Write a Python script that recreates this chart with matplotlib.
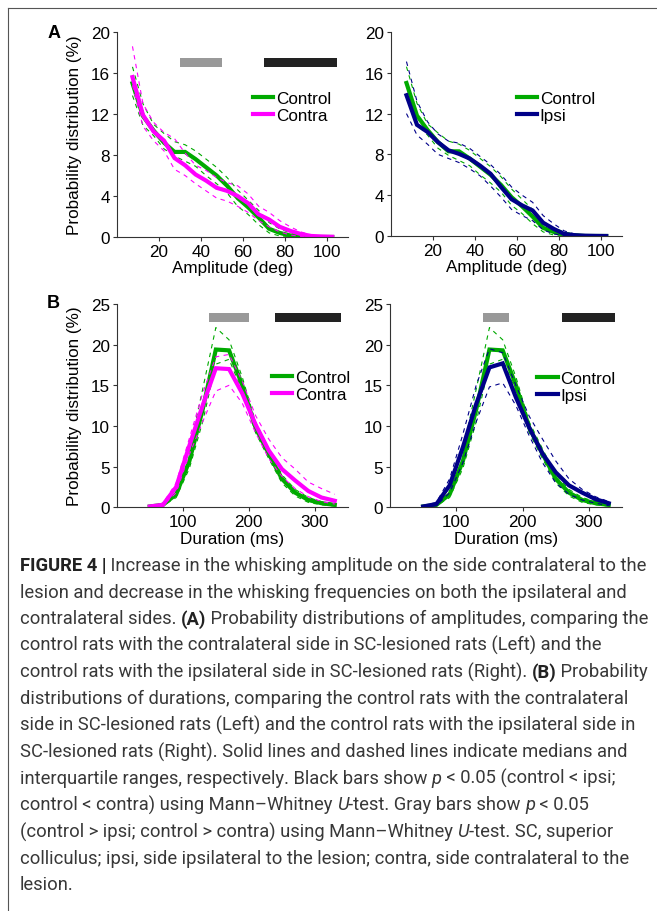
import numpy as np
import matplotlib
matplotlib.use("Agg")
import matplotlib.pyplot as plt
from matplotlib.lines import Line2D

plt.rcParams["font.family"] = ["Liberation Sans", "DejaVu Sans"]

# ---- data: amplitude (deg), bin centres ----
amp_x = [7.5, 12.5, 17.5, 22.5, 27.5, 32.5, 37.5, 42.5, 47.5, 52.5,
         57.5, 62.5, 67.5, 72.5, 77.5, 82.5, 87.5, 92.5, 97.5, 102.5]
amp_ctrl = [15.0, 11.8, 10.4, 9.2, 8.3, 8.3, 7.6, 6.8, 6.0, 5.0,
            3.8, 2.9, 1.9, 0.8, 0.4, 0.15, 0.05, 0.0, 0.0, 0.0]
amp_ctrl_q1 = [13.8, 10.9, 9.9, 8.6, 7.9, 7.4, 6.9, 6.0, 5.2, 4.3,
               3.0, 2.2, 1.2, 0.4, 0.1, 0.05, 0.0, 0.0, 0.0, 0.0]
amp_ctrl_q3 = [16.6, 13.0, 11.0, 10.1, 9.3, 9.0, 8.4, 7.6, 6.8, 5.8,
               4.6, 3.6, 2.6, 1.4, 0.8, 0.4, 0.2, 0.1, 0.05, 0.0]
amp_contra = [15.6, 11.9, 10.3, 9.4, 7.7, 7.0, 6.1, 5.5, 4.8, 4.5,
              4.0, 3.3, 2.2, 1.7, 1.0, 0.6, 0.3, 0.1, 0.05, 0.02]
amp_contra_q1 = [14.8, 10.8, 9.4, 8.4, 6.6, 6.0, 5.2, 4.5, 3.8, 3.5,
                 3.0, 2.4, 1.6, 1.0, 0.5, 0.2, 0.05, 0.0, 0.0, 0.0]
amp_contra_q3 = [18.6, 13.0, 11.2, 10.2, 9.6, 8.2, 7.0, 6.5, 5.8, 5.3,
                 5.0, 4.2, 3.0, 2.4, 1.6, 1.0, 0.5, 0.2, 0.1, 0.05]
amp_ipsi = [13.8, 10.9, 10.2, 9.2, 8.4, 8.05, 7.6, 6.9, 6.1, 4.8,
            3.6, 3.0, 2.5, 1.3, 0.7, 0.2, 0.08, 0.03, 0.01, 0.0]
amp_ipsi_q1 = [12.0, 9.9, 9.0, 8.0, 7.6, 7.2, 6.6, 5.9, 4.9, 3.8,
               2.6, 2.0, 1.5, 0.6, 0.2, 0.05, 0.0, 0.0, 0.0, 0.0]
amp_ipsi_q3 = [17.1, 13.2, 11.2, 10.0, 9.3, 9.1, 8.6, 7.8, 7.0, 6.0,
               4.8, 4.0, 3.3, 2.0, 1.2, 0.5, 0.2, 0.1, 0.05, 0.0]

# ---- data: duration (ms), bin centres ----
dur_x = [50, 70, 90, 110, 130, 150, 170, 190, 210, 230, 250, 270, 290, 310, 330]
dur_ctrl = [0.1, 0.3, 1.6, 5.7, 12.0, 19.4, 19.3, 15.0, 9.8, 6.6, 3.5, 1.8, 0.9, 0.5, 0.3]
dur_ctrl_q1 = [0.05, 0.2, 1.2, 4.8, 10.5, 17.6, 18.2, 14.3, 9.2, 6.0, 3.0, 1.4, 0.6, 0.3, 0.15]
dur_ctrl_q3 = [0.2, 0.5, 2.4, 7.0, 14.5, 22.1, 20.6, 16.0, 10.5, 7.2, 4.0, 2.2, 1.2, 0.7, 0.4]
dur_contra = [0.1, 0.3, 2.5, 7.6, 12.5, 17.1, 17.0, 14.0, 10.2, 7.0, 4.7, 3.3, 2.0, 1.2, 0.8]
dur_contra_q1 = [0.05, 0.2, 1.8, 6.5, 10.5, 14.3, 15.0, 12.8, 9.2, 6.0, 3.8, 2.3, 1.3, 0.7, 0.4]
dur_contra_q3 = [0.2, 0.5, 3.0, 8.5, 14.0, 18.5, 18.8, 15.5, 11.3, 8.4, 6.1, 4.7, 3.1, 2.3, 1.6]
dur_ipsi = [0.1, 0.4, 2.7, 7.4, 12.7, 17.2, 17.7, 13.5, 9.8, 6.6, 4.3, 2.7, 1.8, 1.0, 0.5]
dur_ipsi_q1 = [0.05, 0.2, 1.8, 5.5, 10.5, 14.8, 15.3, 12.5, 8.8, 5.5, 3.0, 1.6, 0.9, 0.5, 0.2]
dur_ipsi_q3 = [0.2, 0.6, 3.5, 9.0, 15.0, 19.5, 19.0, 15.0, 11.2, 8.4, 5.7, 3.5, 2.2, 1.3, 0.7]

# significance bars: (start, end) along x; gray = control > lesion, black = control < lesion
amp_left_gray = [(30, 50)]
amp_left_black = [(70, 105)]
dur_left_gray = [(140, 200)]
dur_left_black = [(240, 340)]
dur_right_gray = [(140, 180)]
dur_right_black = [(260, 340)]

GREEN = "#00aa00"
MAGENTA = "#ff00ff"
NAVY = "#000088"

W, H = 657, 912
fig = plt.figure(figsize=(W / 100, H / 100), dpi=100)


def px_axes(l, t, r, b):
    return fig.add_axes([l / W, 1 - b / H, (r - l) / W, (b - t) / H])


def style_axes(ax, xlim, ylim, xticks, yticks):
    ax.set_xlim(*xlim)
    ax.set_ylim(*ylim)
    ax.set_xticks(xticks)
    ax.set_yticks(yticks)
    for s in ["top", "right"]:
        ax.spines[s].set_visible(False)
    for s in ["left", "bottom"]:
        ax.spines[s].set_color("#333333")
        ax.spines[s].set_linewidth(0.8)
    ax.tick_params(direction="out", length=3, width=0.8, color="#333333",
                   labelsize=12.3, pad=2)


def draw_group(ax, x, med, q1, q3, color, label, lw=3.0):
    ax.plot(x, q1, color=color, lw=0.8, ls=(0, (4, 4)))
    ax.plot(x, q3, color=color, lw=0.8, ls=(0, (4, 4)))
    ax.plot(x, med, color=color, lw=lw, label=label, solid_joinstyle="miter")


def draw_bars(ax, spans, y0, y1, color):
    for a, b in spans:
        ax.fill_between([a, b], [y0, y0], [y1, y1], color=color, lw=0)


def legend_at(ax, xpx, ypx):
    ax.legend(loc="center left", bbox_to_anchor=(xpx / W, 1 - ypx / H),
              bbox_transform=fig.transFigure, frameon=False, fontsize=12.3,
              borderpad=0, borderaxespad=0, handlelength=1.2,
              handletextpad=0.15, labelspacing=0.1)


# ---- panel A ----
axA1 = px_axes(116.7, 33, 348, 238)
axA2 = px_axes(390.7, 33, 622, 237)
for ax, other, oq1, oq3, col, lab in [
        (axA1, amp_contra, amp_contra_q1, amp_contra_q3, MAGENTA, "Contra"),
        (axA2, amp_ipsi, amp_ipsi_q1, amp_ipsi_q3, NAVY, "Ipsi")]:
    draw_group(ax, amp_x, amp_ctrl, amp_ctrl_q1, amp_ctrl_q3, GREEN, "Control")
    draw_group(ax, amp_x, other, oq1, oq3, col, lab)
    style_axes(ax, (0, 110), (0, 20), [20, 40, 60, 80, 100], [0, 4, 8, 12, 16, 20])
    ax.set_xlabel("Amplitude (deg)", fontsize=12.3, labelpad=1)
draw_bars(axA1, amp_left_gray, 16.56, 17.43, "#999999")
draw_bars(axA1, amp_left_black, 16.56, 17.43, "#222222")
legend_at(axA1, 252.7, 108.3)
legend_at(axA2, 516.7, 108.3)

# ---- panel B ----
axB1 = px_axes(116.7, 305, 348, 508.3)
axB2 = px_axes(390, 305, 622, 508.3)
for ax, other, oq1, oq3, col, lab in [
        (axB1, dur_contra, dur_contra_q1, dur_contra_q3, MAGENTA, "Contra"),
        (axB2, dur_ipsi, dur_ipsi_q1, dur_ipsi_q3, NAVY, "Ipsi")]:
    draw_group(ax, dur_x, dur_ctrl, dur_ctrl_q1, dur_ctrl_q3, GREEN, "Control")
    draw_group(ax, dur_x, other, oq1, oq3, col, lab)
    style_axes(ax, (0, 350), (0, 25), [100, 200, 300], [0, 5, 10, 15, 20, 25])
    ax.set_xlabel("Duration (ms)", fontsize=12.3, labelpad=1)
draw_bars(axB1, dur_left_gray, 22.8, 23.9, "#999999")
draw_bars(axB1, dur_left_black, 22.8, 23.9, "#222222")
draw_bars(axB2, dur_right_gray, 22.8, 23.9, "#999999")
draw_bars(axB2, dur_right_black, 22.8, 23.9, "#222222")
legend_at(axB1, 271.7, 387.2)
legend_at(axB2, 537.3, 387.7)

for ax in [axA1, axB1]:
    ax.set_ylabel("Probability distribution (%)", fontsize=12.3)
    ax.yaxis.set_label_coords((81.5 - 116.7) / (348 - 116.7), 0.5)

fig.text(54 / W, 1 - 34 / H, "A", fontsize=13, weight="bold", ha="center", va="center")
fig.text(53.5 / W, 1 - 303 / H, "B", fontsize=13, weight="bold", ha="center", va="center")

# frame
fig.add_artist(Line2D([8 / W, 8 / W], [0, 1 - 9 / H], transform=fig.transFigure,
                      color="#555555", lw=0.8))
fig.add_artist(Line2D([8 / W, 1], [1 - 9 / H, 1 - 9 / H], transform=fig.transFigure,
                      color="#555555", lw=0.8))

# ---- caption ----
caption = [
    [("FIGURE 4 |", "b"), (" Increase in the whisking amplitude on the side contralateral to the", "n")],
    [("lesion and decrease in the whisking frequencies on both the ipsilateral and", "n")],
    [("contralateral sides. ", "n"), ("(A)", "b"), (" Probability distributions of amplitudes, comparing the", "n")],
    [("control rats with the contralateral side in SC-lesioned rats (Left) and the", "n")],
    [("control rats with the ipsilateral side in SC-lesioned rats (Right). ", "n"), ("(B)", "b"), (" Probability", "n")],
    [("distributions of durations, comparing the control rats with the contralateral", "n")],
    [("side in SC-lesioned rats (Left) and the control rats with the ipsilateral side in", "n")],
    [("SC-lesioned rats (Right). Solid lines and dashed lines indicate medians and", "n")],
    [("interquartile ranges, respectively. Black bars show ", "n"), ("p", "i"), (" < 0.05 (control < ipsi;", "n")],
    [("control < contra) using Mann\u2013Whitney ", "n"), ("U", "i"), ("-test. Gray bars show ", "n"), ("p", "i"), (" < 0.05", "n")],
    [("(control > ipsi; control > contra) using Mann\u2013Whitney ", "n"), ("U", "i"), ("-test. SC, superior", "n")],
    [("colliculus; ipsi, side ipsilateral to the lesion; contra, side contralateral to the", "n")],
    [("lesion.", "n")],
]

renderer = fig.canvas.get_renderer()
cap_font = ["Roboto", "DejaVu Sans"]
cap_size = 13.2
y = 566
for line in caption:
    x = 20
    for txt, st in line:
        kw = dict(fontsize=cap_size, family=cap_font, color="#383838", va="center")
        if st == "b":
            kw.update(weight="bold", color="#222222")
        elif st == "i":
            kw.update(style="italic")
        t = fig.text(x / W, 1 - y / H, txt, **kw)
        x += t.get_window_extent(renderer).width
    y += 26.6

fig.savefig("out.png", dpi=100)
